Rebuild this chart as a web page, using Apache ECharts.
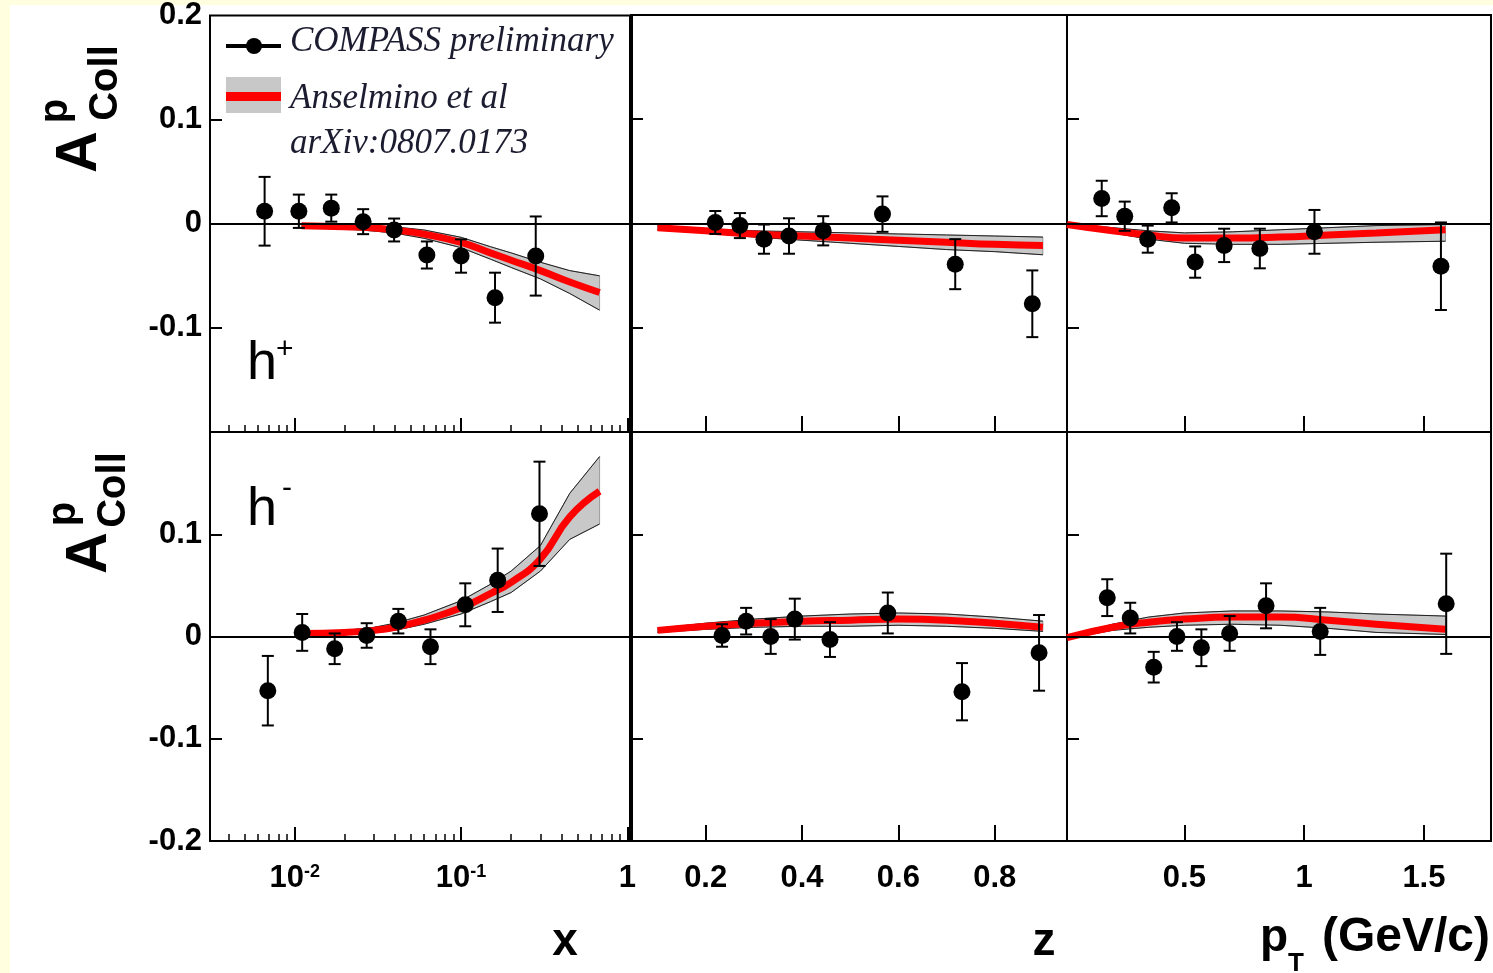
<!DOCTYPE html>
<html>
<head>
<meta charset="utf-8">
<script src="https://cdn.jsdelivr.net/npm/echarts@6/dist/echarts.min.js"></script>
<style>
html, body { margin: 0; padding: 0; background: #ffffe0; }
#chart { width: 1493px; height: 973px; }
</style>
</head>
<body>
<div id="chart"></div>
<script>
// ---- COMPASS preliminary points (value, asymmetry, stat. error) ----
var hpX_x   = [0.0066, 0.0106, 0.0166, 0.0258, 0.0396, 0.0623, 0.100, 0.160, 0.281];
var hpX_a   = [0.012, 0.012, 0.015, 0.002, -0.006, -0.030, -0.031, -0.071, -0.031];
var hpX_err = [0.033, 0.016, 0.013, 0.012, 0.011, 0.013, 0.016, 0.024, 0.038];

var hpZ_z   = [0.220, 0.271, 0.321, 0.373, 0.444, 0.567, 0.718, 0.878];
var hpZ_a   = [0.001, -0.002, -0.015, -0.012, -0.007, 0.009, -0.039, -0.077];
var hpZ_err = [0.011, 0.012, 0.014, 0.017, 0.014, 0.017, 0.024, 0.032];

var hpPt_pt  = [0.155, 0.251, 0.347, 0.447, 0.545, 0.666, 0.815, 1.043, 1.571];
var hpPt_a   = [0.024, 0.007, -0.015, 0.015, -0.037, -0.021, -0.024, -0.008, -0.041];
var hpPt_err = [0.017, 0.014, 0.013, 0.014, 0.015, 0.016, 0.019, 0.021, 0.042];

var hmX_x   = [0.0069, 0.0111, 0.0174, 0.0271, 0.042, 0.0655, 0.106, 0.166, 0.296];
var hmX_a   = [-0.053, 0.004, -0.012, 0.001, 0.015, -0.010, 0.031, 0.055, 0.120];
var hmX_err = [0.034, 0.018, 0.015, 0.012, 0.012, 0.017, 0.021, 0.031, 0.051];

var hmZ_z   = [0.234, 0.284, 0.335, 0.385, 0.458, 0.578, 0.732, 0.892];
var hmZ_a   = [0.001, 0.015, 0.000, 0.017, -0.003, 0.023, -0.054, -0.016];
var hmZ_err = [0.011, 0.013, 0.017, 0.020, 0.017, 0.020, 0.028, 0.037];

var hmPt_pt  = [0.178, 0.274, 0.372, 0.469, 0.571, 0.689, 0.841, 1.067, 1.593];
var hmPt_a   = [0.038, 0.018, -0.030, 0.000, -0.011, 0.003, 0.030, 0.005, 0.032];
var hmPt_err = [0.018, 0.015, 0.015, 0.014, 0.018, 0.017, 0.022, 0.023, 0.049];

// ---- Anselmino et al. prediction: central curve and band edges ----
var thX_x     = [0.011, 0.02, 0.03, 0.04, 0.06, 0.1, 0.15, 0.2, 0.3, 0.45, 0.68];
var thHpX_c   = [-0.002, -0.003, -0.004, -0.006, -0.010, -0.018, -0.028, -0.035, -0.045, -0.056, -0.066];
var thHpX_lo  = [-0.004, -0.005, -0.007, -0.009, -0.014, -0.023, -0.034, -0.042, -0.053, -0.067, -0.083];
var thHpX_hi  = [0.000, -0.001, -0.002, -0.003, -0.006, -0.013, -0.022, -0.028, -0.037, -0.045, -0.050];
var thHmX_c   = [0.003, 0.004, 0.006, 0.009, 0.016, 0.028, 0.042, 0.053, 0.076, 0.117, 0.142];
var thHmX_lo  = [0.001, 0.002, 0.004, 0.006, 0.012, 0.022, 0.034, 0.043, 0.064, 0.095, 0.110];
var thHmX_hi  = [0.005, 0.006, 0.009, 0.013, 0.021, 0.035, 0.051, 0.064, 0.089, 0.140, 0.176];

var thZ_z     = [0.1, 0.2, 0.3, 0.4, 0.5, 0.6, 0.7, 0.8, 0.9];
var thHpZ_c   = [-0.004, -0.007, -0.010, -0.012, -0.014, -0.016, -0.018, -0.020, -0.021];
var thHpZ_lo  = [-0.006, -0.009, -0.013, -0.016, -0.019, -0.022, -0.025, -0.027, -0.030];
var thHpZ_hi  = [-0.002, -0.005, -0.007, -0.008, -0.009, -0.010, -0.011, -0.012, -0.013];
var thHmZ_c   = [0.006, 0.010, 0.013, 0.015, 0.016, 0.017, 0.016, 0.013, 0.009];
var thHmZ_lo  = [0.004, 0.007, 0.009, 0.010, 0.010, 0.011, 0.010, 0.008, 0.005];
var thHmZ_hi  = [0.008, 0.013, 0.017, 0.020, 0.022, 0.023, 0.022, 0.019, 0.015];

var thPt_pt   = [0.01, 0.2, 0.35, 0.5, 0.7, 0.9, 1.1, 1.3, 1.59];
var thHpPt_c  = [-0.001, -0.007, -0.011, -0.014, -0.014, -0.013, -0.011, -0.009, -0.006];
var thHpPt_lo = [-0.002, -0.009, -0.015, -0.019, -0.020, -0.020, -0.019, -0.018, -0.017];
var thHpPt_hi = [0.000, -0.004, -0.007, -0.009, -0.008, -0.006, -0.004, -0.002, -0.001];
var thHmPt_c  = [-0.001, 0.009, 0.014, 0.017, 0.019, 0.019, 0.016, 0.012, 0.007];
var thHmPt_lo = [-0.002, 0.006, 0.009, 0.011, 0.012, 0.011, 0.008, 0.004, 0.002];
var thHmPt_hi = [0.000, 0.012, 0.019, 0.023, 0.025, 0.025, 0.024, 0.022, 0.020];

// ---- tick values ----
var xMajorTicks  = [0.01, 0.1, 1];
var xMinorTicks  = [0.004, 0.005, 0.006, 0.007, 0.008, 0.009,
                    0.02, 0.03, 0.04, 0.05, 0.06, 0.07, 0.08, 0.09,
                    0.2, 0.3, 0.4, 0.5, 0.6, 0.7, 0.8, 0.9];
var zTicks       = [0.2, 0.4, 0.6, 0.8];
var ptTicks      = [0.5, 1, 1.5];
var yTicks       = [-0.1, 0.1];
var yLabelsTop   = [-0.1, 0, 0.1, 0.2];
var yLabelsBot   = [-0.2, -0.1, 0, 0.1];

var FONT = 'Liberation Sans';
var chart = echarts.init(document.getElementById('chart'));

var colLeft = [210, 631, 1067], colWidth = [421, 436, 424];
var rowTop = [15, 432], rowHeight = [417, 409];
var xRange = [[0.0031, 1.05], [0.045, 0.95], [0.01, 1.78]];

var panels = [
  { pts: [hpX_x, hpX_a, hpX_err],    th: [thX_x, thHpX_c, thHpX_lo, thHpX_hi] },
  { pts: [hpZ_z, hpZ_a, hpZ_err],    th: [thZ_z, thHpZ_c, thHpZ_lo, thHpZ_hi] },
  { pts: [hpPt_pt, hpPt_a, hpPt_err], th: [thPt_pt, thHpPt_c, thHpPt_lo, thHpPt_hi] },
  { pts: [hmX_x, hmX_a, hmX_err],    th: [thX_x, thHmX_c, thHmX_lo, thHmX_hi] },
  { pts: [hmZ_z, hmZ_a, hmZ_err],    th: [thZ_z, thHmZ_c, thHmZ_lo, thHmZ_hi] },
  { pts: [hmPt_pt, hmPt_a, hmPt_err], th: [thPt_pt, thHmPt_c, thHmPt_lo, thHmPt_hi] }
];

function zip(a, b) { return a.map(function (v, i) { return [v, b[i]]; }); }

function renderErr(params, api) {
  var x = api.value(0), y = api.value(1), e = api.value(2);
  var top = api.coord([x, y + e]);
  var bot = api.coord([x, y - e]);
  var w = 6, st = { stroke: '#000', lineWidth: 2 };
  return {
    type: 'group',
    children: [
      { type: 'line', shape: { x1: top[0], y1: top[1], x2: bot[0], y2: bot[1] }, style: st },
      { type: 'line', shape: { x1: top[0] - w, y1: top[1], x2: top[0] + w, y2: top[1] }, style: st },
      { type: 'line', shape: { x1: bot[0] - w, y1: bot[1], x2: bot[0] + w, y2: bot[1] }, style: st }
    ]
  };
}

// band drawn once (at the first item) as one polygon from all rows
function bandRenderer(xs, lo, hi) {
  return function (params, api) {
    if (params.dataIndex !== 0) return null;
    var up = xs.map(function (x, i) { return api.coord([x, hi[i]]); });
    var dn = xs.map(function (x, i) { return api.coord([x, lo[i]]); });
    var edge = { stroke: '#222', lineWidth: 1, fill: null };
    return {
      type: 'group',
      children: [
        { type: 'polygon', shape: { points: up.concat(dn.slice().reverse()) },
          style: { fill: '#c8c8c8', stroke: '#555', lineWidth: 0.5 } },
        { type: 'polyline', shape: { points: up }, style: edge },
        { type: 'polyline', shape: { points: dn }, style: edge }
      ]
    };
  };
}

var grids = [], xAxes = [], yAxes = [], series = [];
var labelStyle = { color: '#000', fontFamily: FONT, fontWeight: 'bold', fontSize: 31 };

panels.forEach(function (p, gi) {
  var row = Math.floor(gi / 3), col = gi % 3;
  grids.push({
    left: colLeft[col], top: rowTop[row], width: colWidth[col], height: rowHeight[row],
    show: true, borderColor: '#000', borderWidth: 2, backgroundColor: 'transparent'
  });

  var majors = col === 0 ? xMajorTicks : (col === 1 ? zTicks : ptTicks);
  var xi = xAxes.length;
  var xa = {
    gridIndex: gi, type: col === 0 ? 'log' : 'value', logBase: 10,
    min: xRange[col][0], max: xRange[col][1], position: 'bottom',
    axisLine: { show: false, onZero: false }, splitLine: { show: false },
    axisTick: { show: true, inside: true, length: col === 0 ? 14 : 16,
      customValues: majors, lineStyle: { color: '#000', width: 2 } },
    axisLabel: Object.assign({ show: row === 1, customValues: majors, margin: 22 }, labelStyle)
  };
  if (col === 0) {
    xa.axisLabel.formatter = function (v) {
      var e = Math.round(Math.log10(v));
      return e === 0 ? '{b|1}' : '{b|10}{s|' + e + '}';
    };
    xa.axisLabel.rich = {
      b: { fontFamily: FONT, fontWeight: 'bold', fontSize: 31, color: '#000' },
      s: { fontFamily: FONT, fontWeight: 'bold', fontSize: 18, color: '#000', verticalAlign: 'top' }
    };
  }
  xAxes.push(xa);
  if (col === 0) {
    xAxes.push({
      gridIndex: gi, type: 'log', logBase: 10, min: xRange[0][0], max: xRange[0][1], position: 'bottom',
      axisLine: { show: false, onZero: false }, splitLine: { show: false }, axisLabel: { show: false },
      axisTick: { show: true, inside: true, length: 7, customValues: xMinorTicks,
        lineStyle: { color: '#000', width: 1.5 } }
    });
  }

  yAxes.push({
    gridIndex: gi, type: 'value', min: -0.2, max: 0.2, position: 'left',
    axisLine: { show: false, onZero: false }, splitLine: { show: false },
    axisTick: { show: true, inside: true, length: 12, customValues: yTicks,
      lineStyle: { color: '#000', width: 2 } },
    axisLabel: Object.assign({
      show: col === 0, customValues: row === 0 ? yLabelsTop : yLabelsBot, margin: 8,
      formatter: function (v) { return v === 0 ? '0' : String(v); }
    }, labelStyle)
  });

  var th = p.th;
  series.push({
    type: 'custom', xAxisIndex: xi, yAxisIndex: gi, z: 2, silent: true,
    renderItem: bandRenderer(th[0], th[2], th[3]),
    encode: { x: 0, y: [1, 2] },
    data: th[0].map(function (v, i) { return [v, th[2][i], th[3][i]]; })
  });
  series.push({
    type: 'line', xAxisIndex: xi, yAxisIndex: gi,
    data: zip(th[0], th[1]), smooth: true, showSymbol: false, silent: true, z: 3,
    lineStyle: { color: '#ff0000', width: 7 }
  });

  var pts = p.pts;
  series.push({
    type: 'custom', xAxisIndex: xi, yAxisIndex: gi, renderItem: renderErr, z: 4, silent: true,
    encode: { x: 0, y: 1 },
    data: pts[0].map(function (v, i) { return [v, pts[1][i], pts[2][i]]; }),
    markLine: {
      silent: true, symbol: 'none', label: { show: false },
      lineStyle: { color: '#000', width: 2, type: 'solid' },
      data: [{ yAxis: 0 }]
    }
  });
  series.push({
    type: 'scatter', xAxisIndex: xi, yAxisIndex: gi, z: 5, silent: true,
    data: zip(pts[0], pts[1]), symbol: 'circle', symbolSize: 17,
    itemStyle: { color: '#000', opacity: 1 }
  });
});

function txt(x, y, text, size, opts) {
  return Object.assign({
    type: 'text', x: x, y: y, z: 100,
    style: Object.assign({ text: text, fill: '#000', font: 'bold ' + size + 'px "' + FONT + '"',
      align: 'center', verticalAlign: 'middle' }, (opts && opts.style) || {})
  }, opts && opts.el || {});
}
var ROT = Math.PI / 2;
var serifIt = 'italic 35px "Liberation Serif"';

var graphics = [
  { type: 'rect', z: -10, shape: { x: 10, y: 5, width: 1483, height: 968 }, style: { fill: '#fff' } },
  { type: 'line', z: 50, shape: { x1: 631, y1: 15, x2: 631, y2: 841 }, style: { stroke: '#000', lineWidth: 4 } },
  // y titles
  txt(80, 152, 'A', 58, { el: { rotation: ROT } }),
  txt(56, 111, 'p', 40, { el: { rotation: ROT } }),
  txt(106, 83, 'Coll', 40, { el: { rotation: ROT } }),
  txt(90, 553, 'A', 58, { el: { rotation: ROT } }),
  txt(64, 514, 'p', 40, { el: { rotation: ROT } }),
  txt(114, 490, 'Coll', 40, { el: { rotation: ROT } }),
  // x titles
  txt(565, 942, 'x', 46),
  txt(1044, 942, 'z', 46),
  txt(1260, 938, 'p', 46, { style: { align: 'left' } }),
  txt(1288, 964, 'T', 26, { style: { align: 'left' } }),
  txt(1322, 938, '(GeV/c)', 48, { style: { align: 'left' } }),
  // charge labels
  txt(247, 364, 'h', 54, { style: { align: 'left', font: '54px "' + FONT + '"' } }),
  txt(276, 350, '+', 30, { style: { align: 'left', font: '30px "' + FONT + '"' } }),
  txt(247, 510, 'h', 54, { style: { align: 'left', font: '54px "' + FONT + '"' } }),
  txt(282, 489, '-', 30, { style: { align: 'left', font: '30px "' + FONT + '"' } }),
  // legend
  { type: 'line', z: 100, shape: { x1: 226, y1: 46, x2: 281, y2: 46 }, style: { stroke: '#000', lineWidth: 4 } },
  { type: 'circle', z: 101, shape: { cx: 254, cy: 46, r: 8 }, style: { fill: '#000' } },
  { type: 'rect', z: 100, shape: { x: 226, y: 77, width: 55, height: 36 }, style: { fill: '#c8c8c8' } },
  { type: 'rect', z: 101, shape: { x: 226, y: 92, width: 55, height: 9 }, style: { fill: '#ff0000' } },
  txt(290, 42, 'COMPASS preliminary', 35, { style: { align: 'left', fill: '#1c1c30', font: serifIt } }),
  txt(290, 99, 'Anselmino et al', 35, { style: { align: 'left', fill: '#1c1c30', font: serifIt } }),
  txt(290, 144, 'arXiv:0807.0173', 35, { style: { align: 'left', fill: '#1c1c30', font: serifIt } })
];

chart.setOption({
  animation: false,
  backgroundColor: '#ffffe0',
  grid: grids,
  xAxis: xAxes,
  yAxis: yAxes,
  series: series,
  graphic: { elements: graphics }
});
</script>
</body>
</html>
